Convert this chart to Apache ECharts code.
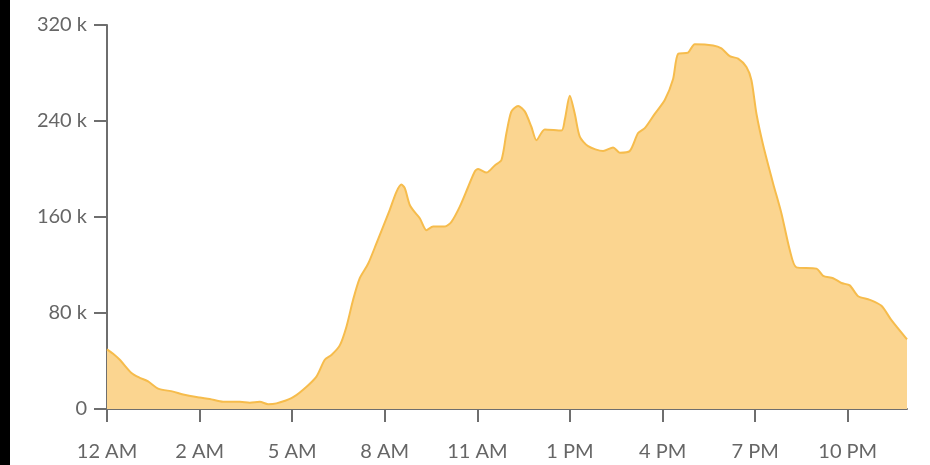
<!DOCTYPE html>
<html>
<head>
<meta charset="utf-8">
<script src="https://cdn.jsdelivr.net/npm/echarts@6/dist/echarts.min.js"></script>
<style>
html,body{margin:0;padding:0;background:#fff;}
#c{width:930px;height:465px;}
</style>
</head>
<body>
<div id="c"></div>
<script>
// minutes since midnight
var minutes = [0,11,23,44,59,74,92,119,137,167,185,209,239,257,275,290,305,332,353,377,392,404,419,431,443,455,470,485,509,521,530,536,545,554,563,575,587,608,620,635,650,662,668,683,698,710,719,728,740,752,764,773,788,818,824,833,842,851,866,893,911,923,941,956,968,986,1004,1019,1028,1046,1058,1091,1106,1121,1136,1151,1160,1169,1181,1199,1214,1229,1241,1277,1289,1307,1322,1337,1352,1373,1394,1412,1440];
// values in thousands
var values = [49.7,46,41,30,26,23,17,14.5,12,9.5,8.3,6,6,5.3,6,4,4.7,9,16,27,41,45,53,68.6,91,109,121,138,166,181,187,184,170,164,159,149,152,152,156,168.6,185,198,200,197,203,207.5,230,248,252.5,248,235,224,233,232,241,261,246,227,219,215,218,213.6,215,230,234,246,257.5,275,296,297,304,303,300.5,294,292,285,274,246,220,188,163,132.5,118,117,111,109,105,103,94,91,86,74,58];
var xTickMinutes = [0,166.6667,333.3333,500,666.6667,833.3333,1000,1166.6667,1333.3333];
var xTickLabels = ['12 AM','2 AM','5 AM','8 AM','11 AM','1 PM','4 PM','7 PM','10 PM'];

var data = minutes.map(function(m,i){return [m, values[i]];});
var chart = echarts.init(document.getElementById('c'));
var axisColor = '#6e6e6e';
var font = 'Lato, "Open Sans", sans-serif';
chart.setOption({
  backgroundColor:'#ffffff',
  animation:false,
  graphic:[{type:'rect', left:0, top:0, shape:{width:10,height:465}, style:{fill:'#000'}}],
  grid:{left:107, right:23, top:25, bottom:56},
  xAxis:{
    type:'value', min:0, max:1440,
    splitLine:{show:false},
    axisLine:{show:true, lineStyle:{color:axisColor, width:2}},
    axisTick:{show:true, length:13, lineStyle:{color:axisColor, width:2}, customValues:xTickMinutes},
    axisLabel:{customValues:xTickMinutes, margin:33, color:'#666', fontSize:20, fontFamily:font,
      formatter:function(v){
        var best=0,bd=1e9;
        for(var i=0;i<xTickMinutes.length;i++){var d=Math.abs(xTickMinutes[i]-v); if(d<bd){bd=d;best=i;}}
        return xTickLabels[best];
      }}
  },
  yAxis:{
    type:'value', min:0, max:320, interval:80,
    splitLine:{show:false},
    axisLine:{show:true, lineStyle:{color:axisColor, width:2}},
    axisTick:{show:true, length:13, lineStyle:{color:axisColor, width:2}},
    axisLabel:{margin:20, color:'#666', fontSize:20, fontFamily:font,
      formatter:function(v){return v===0?'0':v+' k';}}
  },
  series:[{
    type:'line', data:data, smooth:0.25, showSymbol:false,
    lineStyle:{color:'#f6bc4c', width:2},
    areaStyle:{color:'#fbd590', opacity:1},
    z:1
  }]
});
</script>
</body>
</html>
